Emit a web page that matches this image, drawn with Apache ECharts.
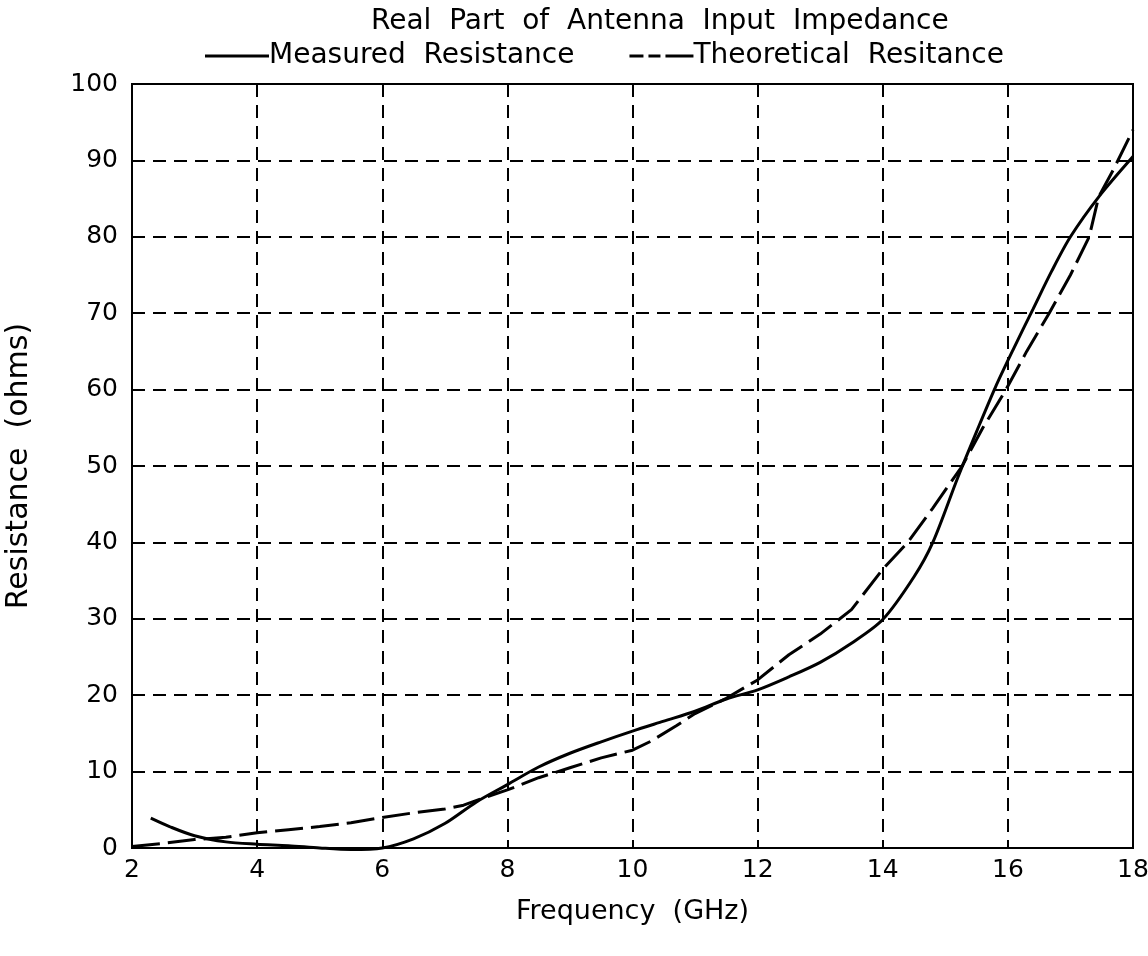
<!DOCTYPE html>
<html>
<head>
<meta charset="utf-8">
<script src="https://cdn.jsdelivr.net/npm/echarts@6/dist/echarts.min.js"></script>
<style>
html,body{margin:0;padding:0;background:#fff;}
#chart{width:1148px;height:956px;}
</style>
</head>
<body>
<div id="chart"></div>
<script>
const titleText = 'Real  Part  of  Antenna  Input  Impedance';
const seriesNames = ['Measured  Resistance', 'Theoretical  Resitance'];
const xTicks = [2, 4, 6, 8, 10, 12, 14, 16, 18];
const yTicks = [0, 10, 20, 30, 40, 50, 60, 70, 80, 90, 100];

const measuredFreq = [2.3, 2.6, 3.0, 3.5, 4.0, 4.5, 5.0, 5.5, 6.0, 6.5, 7.0, 7.5, 8.0, 8.5, 9.0, 9.5, 10.0, 10.5, 11.0, 11.5, 12.0, 12.5, 13.0, 13.5, 14.0, 14.5, 14.8, 15.2, 15.5, 15.8, 16.1, 16.4, 16.7, 17.0, 17.45, 18.0];
const measuredRes  = [3.9, 2.8, 1.6, 0.8, 0.5, 0.3, 0.0, -0.2, 0.0, 1.2, 3.2, 6.0, 8.3, 10.6, 12.4, 13.9, 15.3, 16.6, 17.9, 19.5, 20.7, 22.4, 24.3, 26.8, 29.9, 35.5, 40.0, 48.5, 54.5, 60.3, 65.5, 70.5, 75.5, 80.0, 85.2, 90.5];

const theoryFreq = [2.0, 2.5, 3.0, 3.5, 4.0, 4.5, 5.0, 5.5, 6.0, 6.5, 7.0, 7.3, 7.6, 8.0, 8.5, 9.0, 9.5, 10.0, 10.3, 10.7, 11.0, 11.5, 12.0, 12.5, 13.0, 13.5, 14.0, 14.4, 14.8, 15.27, 15.6, 15.97, 16.3, 16.66, 17.0, 17.3, 17.45, 17.7, 18.0];
const theoryRes  = [0.2, 0.6, 1.1, 1.4, 2.0, 2.4, 2.8, 3.3, 4.0, 4.6, 5.1, 5.6, 6.5, 7.6, 9.2, 10.5, 11.8, 12.8, 14.0, 16.0, 17.6, 19.6, 22.0, 25.3, 28.0, 31.2, 36.5, 40.0, 44.5, 50.0, 55.0, 60.0, 65.0, 70.0, 75.0, 80.0, 85.2, 89.0, 94.0];

const xAxisName = 'Frequency  (GHz)';
const yAxisName = 'Resistance  (ohms)';

const measuredData = measuredFreq.map((f, i) => [f, measuredRes[i]]);
const theoryData = theoryFreq.map((f, i) => [f, theoryRes[i]]);

const FONT = 'DejaVu Sans';
const solidIcon = 'path://M0,0H64V3H0Z';
const dashIcon = 'path://M0,0H14V3H0Z M19,0H31V3H19Z M36,0H64V3H36Z';

const chart = echarts.init(document.getElementById('chart'), null, {renderer: 'canvas'});
chart.setOption({
  backgroundColor: '#ffffff',
  animation: false,
  title: {
    text: titleText,
    left: 366,
    top: 3,
    textStyle: {fontFamily: FONT, fontSize: 28, fontWeight: 'normal', color: '#000'}
  },
  legend: {
    top: 37,
    left: 200,
    itemWidth: 64,
    itemHeight: 3,
    itemGap: 55,
    itemStyle: {color: '#000'},
    data: [
      {name: seriesNames[0], icon: solidIcon},
      {name: seriesNames[1], icon: dashIcon}
    ],
    textStyle: {fontFamily: FONT, fontSize: 28, color: '#000', padding: [0, 0, 0, -5]}
  },
  grid: {
    left: 132, right: 15, top: 84, bottom: 108,
    show: true, borderColor: '#000', borderWidth: 2,
    containLabel: false, outerBoundsMode: 'none'
  },
  xAxis: {
    type: 'value',
    min: xTicks[0], max: xTicks[xTicks.length - 1], interval: 2,
    name: xAxisName,
    nameLocation: 'middle',
    nameGap: 50,
    nameTextStyle: {fontFamily: FONT, fontSize: 27, color: '#000'},
    axisLine: {show: true, lineStyle: {color: '#000', width: 2}},
    axisTick: {show: false},
    axisLabel: {fontFamily: FONT, fontSize: 25, color: '#000', margin: 10},
    splitLine: {show: true, lineStyle: {color: '#000', width: 2, type: [13, 8]}}
  },
  yAxis: {
    type: 'value',
    min: yTicks[0], max: yTicks[yTicks.length - 1], interval: 10,
    name: yAxisName,
    nameLocation: 'middle',
    nameGap: 98,
    nameRotate: 90,
    nameTextStyle: {fontFamily: FONT, fontSize: 30, color: '#000'},
    axisLine: {show: true, lineStyle: {color: '#000', width: 2}},
    axisTick: {show: false},
    axisLabel: {fontFamily: FONT, fontSize: 25, color: '#000', margin: 14},
    splitLine: {show: true, lineStyle: {color: '#000', width: 2, type: [13, 8]}}
  },
  series: [
    {
      name: seriesNames[0],
      type: 'line',
      data: measuredData,
      showSymbol: false,
      symbol: 'none',
      smooth: 0.3,
      clip: false,
      lineStyle: {color: '#000', width: 3, type: 'solid'},
      itemStyle: {color: '#000'}
    },
    {
      name: seriesNames[1],
      type: 'line',
      data: theoryData,
      showSymbol: false,
      symbol: 'none',
      smooth: false,
      clip: false,
      lineStyle: {color: '#000', width: 3, type: [28, 8]},
      itemStyle: {color: '#000'}
    }
  ]
});
</script>
</body>
</html>
